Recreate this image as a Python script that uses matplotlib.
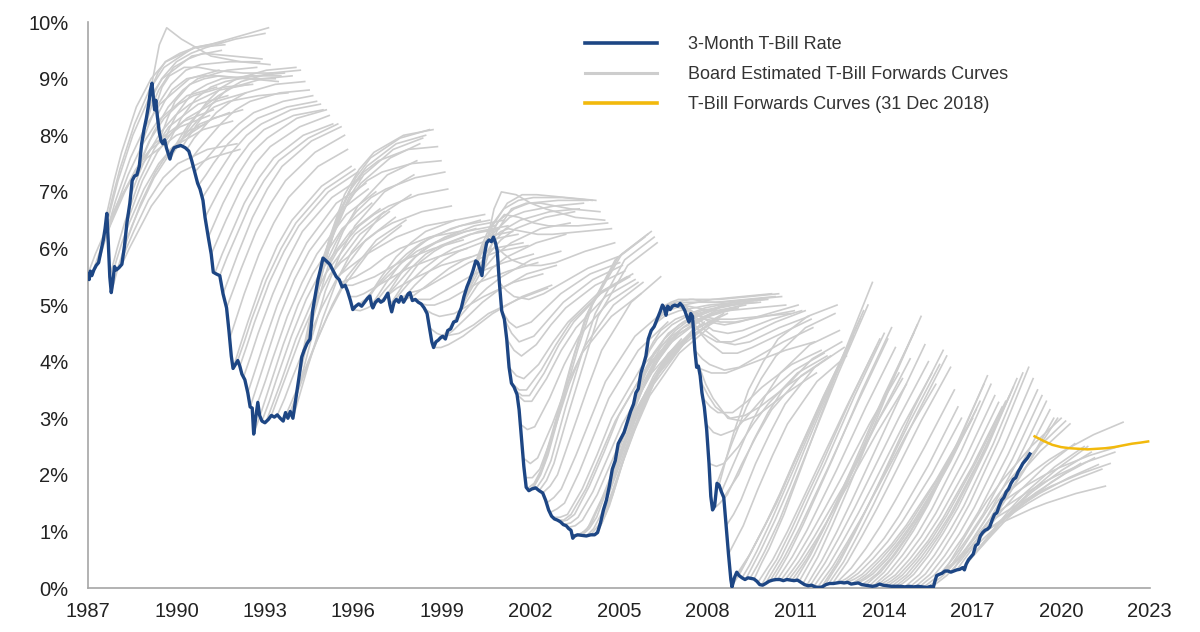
import numpy as np
import matplotlib
matplotlib.use("Agg")
import matplotlib.pyplot as plt
from matplotlib.lines import Line2D
from matplotlib.ticker import FuncFormatter

# 3-month T-bill rate (%)
tbill_year = [
    1987.00, 1987.04, 1987.08, 1987.13, 1987.20, 1987.28, 1987.36, 1987.44, 1987.52, 1987.58,
    1987.64, 1987.69, 1987.74, 1987.79, 1987.84, 1987.90, 1987.96, 1988.05, 1988.15, 1988.24,
    1988.32, 1988.42, 1988.50, 1988.58, 1988.66, 1988.74, 1988.82, 1988.90, 1988.98, 1989.06,
    1989.12, 1989.17, 1989.22, 1989.26, 1989.30, 1989.35, 1989.42, 1989.48, 1989.54, 1989.60,
    1989.66, 1989.72, 1989.78, 1989.84, 1989.92, 1990.02, 1990.15, 1990.30, 1990.42, 1990.52,
    1990.62, 1990.72, 1990.80, 1990.90, 1990.97, 1991.08, 1991.18, 1991.25, 1991.35, 1991.47,
    1991.58, 1991.70, 1991.78, 1991.86, 1991.92, 1992.00, 1992.08, 1992.15, 1992.22, 1992.32,
    1992.42, 1992.50, 1992.57, 1992.62, 1992.68, 1992.76, 1992.82, 1992.90, 1993.00, 1993.12,
    1993.22, 1993.32, 1993.42, 1993.52, 1993.62, 1993.70, 1993.78, 1993.86, 1993.95, 1994.05,
    1994.15, 1994.25, 1994.33, 1994.43, 1994.53, 1994.62, 1994.70, 1994.80, 1994.88, 1994.97,
    1995.08, 1995.20, 1995.30, 1995.42, 1995.52, 1995.62, 1995.72, 1995.80, 1995.90, 1995.98,
    1996.08, 1996.18, 1996.28, 1996.38, 1996.48, 1996.56, 1996.62, 1996.66, 1996.75, 1996.85,
    1996.93, 1997.02, 1997.10, 1997.17, 1997.24, 1997.30, 1997.38, 1997.46, 1997.54, 1997.62,
    1997.70, 1997.78, 1997.86, 1997.92, 1998.00, 1998.10, 1998.20, 1998.30, 1998.40, 1998.50,
    1998.58, 1998.66, 1998.72, 1998.80, 1998.88, 1998.95, 1999.03, 1999.12, 1999.20, 1999.30,
    1999.40, 1999.50, 1999.58, 1999.66, 1999.75, 1999.85, 1999.95, 2000.05, 2000.15, 2000.22,
    2000.30, 2000.36, 2000.44, 2000.52, 2000.60, 2000.68, 2000.75, 2000.82, 2000.88, 2000.95,
    2001.03, 2001.12, 2001.20, 2001.28, 2001.36, 2001.45, 2001.55, 2001.62, 2001.70, 2001.78,
    2001.86, 2001.95, 2002.05, 2002.18, 2002.30, 2002.42, 2002.52, 2002.62, 2002.72, 2002.82,
    2002.92, 2003.02, 2003.12, 2003.22, 2003.30, 2003.38, 2003.44, 2003.50, 2003.60, 2003.75,
    2003.90, 2004.05, 2004.18, 2004.28, 2004.38, 2004.48, 2004.58, 2004.68, 2004.78, 2004.88,
    2004.98, 2005.08, 2005.18, 2005.30, 2005.40, 2005.50, 2005.58, 2005.66, 2005.75, 2005.84,
    2005.92, 2006.00, 2006.10, 2006.20, 2006.30, 2006.40, 2006.48, 2006.54, 2006.60, 2006.66,
    2006.74, 2006.82, 2006.90, 2007.00, 2007.08, 2007.16, 2007.24, 2007.32, 2007.38, 2007.44,
    2007.50, 2007.58, 2007.64, 2007.70, 2007.76, 2007.82, 2007.90, 2007.98, 2008.06, 2008.12,
    2008.18, 2008.25, 2008.33, 2008.40, 2008.48, 2008.56, 2008.64, 2008.72, 2008.80, 2008.84,
    2008.92, 2009.00, 2009.08, 2009.18, 2009.28, 2009.38, 2009.48, 2009.58, 2009.68, 2009.78,
    2009.88, 2009.98, 2010.10, 2010.22, 2010.34, 2010.46, 2010.58, 2010.70, 2010.82, 2010.94,
    2011.06, 2011.18, 2011.30, 2011.42, 2011.54, 2011.66, 2011.78, 2011.90, 2012.02, 2012.15,
    2012.28, 2012.40, 2012.52, 2012.64, 2012.76, 2012.88, 2013.00, 2013.12, 2013.24, 2013.36,
    2013.48, 2013.60, 2013.72, 2013.84, 2013.96, 2014.10, 2014.25, 2014.40, 2014.55, 2014.70,
    2014.85, 2015.00, 2015.15, 2015.30, 2015.45, 2015.58, 2015.66, 2015.72, 2015.78, 2015.86,
    2015.96, 2016.06, 2016.16, 2016.26, 2016.36, 2016.46, 2016.56, 2016.66, 2016.72, 2016.78,
    2016.86, 2016.94, 2017.02, 2017.10, 2017.18, 2017.26, 2017.34, 2017.42, 2017.50, 2017.58,
    2017.66, 2017.74, 2017.82, 2017.90, 2017.98, 2018.06, 2018.14, 2018.22, 2018.30, 2018.38,
    2018.46, 2018.54, 2018.62, 2018.70, 2018.78, 2018.86, 2018.94,
]
tbill_rate = [
    5.55, 5.45, 5.60, 5.52, 5.62, 5.70, 5.75, 5.95, 6.15, 6.35,
    6.62, 6.10, 5.50, 5.22, 5.40, 5.68, 5.62, 5.66, 5.72, 6.05,
    6.45, 6.80, 7.20, 7.28, 7.30, 7.45, 7.85, 8.10, 8.30, 8.55,
    8.80, 8.92, 8.65, 8.45, 8.62, 8.35, 8.05, 7.90, 7.85, 7.92,
    7.78, 7.68, 7.58, 7.70, 7.78, 7.80, 7.82, 7.78, 7.72, 7.55,
    7.35, 7.15, 7.05, 6.85, 6.55, 6.20, 5.90, 5.58, 5.55, 5.52,
    5.20, 4.95, 4.55, 4.10, 3.88, 3.95, 4.02, 3.92, 3.78, 3.68,
    3.45, 3.20, 3.18, 2.72, 2.98, 3.28, 3.05, 2.95, 2.92, 2.98,
    3.05, 3.02, 3.06, 3.00, 2.95, 3.10, 3.00, 3.12, 3.00, 3.35,
    3.70, 4.08, 4.20, 4.32, 4.40, 4.90, 5.15, 5.45, 5.62, 5.83,
    5.78, 5.72, 5.62, 5.50, 5.45, 5.32, 5.35, 5.25, 5.08, 4.92,
    4.98, 5.02, 4.98, 5.05, 5.12, 5.16, 5.00, 4.95, 5.05, 5.10,
    5.05, 5.08, 5.15, 5.21, 5.00, 4.88, 5.05, 5.10, 5.05, 5.15,
    5.05, 5.12, 5.20, 5.22, 5.08, 5.10, 5.05, 5.02, 4.95, 4.85,
    4.60, 4.35, 4.25, 4.35, 4.38, 4.42, 4.45, 4.40, 4.55, 4.58,
    4.70, 4.72, 4.85, 4.95, 5.15, 5.32, 5.45, 5.60, 5.78, 5.75,
    5.62, 5.52, 5.88, 6.10, 6.15, 6.12, 6.20, 6.10, 5.95, 5.40,
    4.90, 4.75, 4.40, 3.90, 3.62, 3.55, 3.42, 3.15, 2.65, 2.15,
    1.78, 1.72, 1.75, 1.77, 1.72, 1.68, 1.55, 1.38, 1.27, 1.22,
    1.20, 1.17, 1.12, 1.10, 1.05, 1.02, 0.88, 0.92, 0.94, 0.93,
    0.92, 0.94, 0.94, 0.98, 1.15, 1.38, 1.55, 1.80, 2.10, 2.25,
    2.55, 2.65, 2.75, 2.95, 3.12, 3.25, 3.45, 3.52, 3.80, 3.95,
    4.10, 4.40, 4.55, 4.62, 4.75, 4.88, 5.00, 4.95, 4.82, 4.98,
    4.92, 4.98, 5.00, 4.98, 5.03, 4.98, 4.90, 4.78, 4.70, 4.85,
    4.80, 4.20, 3.90, 3.92, 3.75, 3.45, 3.20, 2.80, 2.20, 1.62,
    1.38, 1.45, 1.85, 1.82, 1.70, 1.60, 1.10, 0.60, 0.15, 0.02,
    0.18, 0.28, 0.22, 0.18, 0.15, 0.18, 0.17, 0.16, 0.12, 0.06,
    0.05, 0.08, 0.12, 0.14, 0.15, 0.15, 0.13, 0.15, 0.14, 0.13,
    0.14, 0.10, 0.06, 0.04, 0.05, 0.02, 0.01, 0.02, 0.06, 0.08,
    0.08, 0.09, 0.10, 0.09, 0.10, 0.07, 0.08, 0.09, 0.06, 0.05,
    0.04, 0.03, 0.04, 0.07, 0.05, 0.04, 0.03, 0.03, 0.03, 0.02,
    0.03, 0.02, 0.03, 0.02, 0.01, 0.03, 0.00, 0.12, 0.22, 0.24,
    0.26, 0.30, 0.30, 0.28, 0.30, 0.32, 0.33, 0.36, 0.32, 0.42,
    0.50, 0.55, 0.60, 0.75, 0.78, 0.92, 0.98, 1.02, 1.04, 1.08,
    1.20, 1.30, 1.33, 1.45, 1.55, 1.60, 1.70, 1.75, 1.85, 1.92,
    1.95, 2.05, 2.12, 2.20, 2.25, 2.30, 2.37,
]

# forward curves: each starts at a date and is read at these horizons (years ahead)
fwd_horizon = [0, 0.25, 0.5, 1, 1.5, 2, 3, 4]

# 1987-1990
fwd_start_a = [1987.00, 1987.12, 1987.25, 1987.36, 1987.44, 1987.52, 1987.58, 1987.64,
               1987.74, 1987.79, 1987.90, 1988.05, 1988.15, 1988.24, 1988.35, 1988.46,
               1988.58, 1988.72, 1988.82, 1988.90, 1989.00, 1989.12, 1989.17, 1989.26,
               1989.35, 1989.45, 1989.54, 1989.66, 1989.78, 1989.92, 1990.05, 1990.20,
               1990.35, 1990.50, 1990.62, 1990.75, 1990.88, 1990.97]
fwd_vals_a = [
    [5.55, 5.9, 6.2, 6.8, 7.25, 7.6, 8.0, 8.2],
    [5.52, 5.9, 6.25, 6.9, 7.4, 7.75, 8.15, 8.35],
    [5.65, 6.05, 6.4, 7.0, 7.5, 7.85, 8.25, 8.45],
    [5.75, 6.2, 6.6, 7.3, 7.85, 8.25, 8.7, 8.85],
    [5.95, 6.4, 6.85, 7.6, 8.15, 8.55, 9.0, 9.15],
    [6.15, 6.7, 7.2, 8.0, 8.6, 9.0, 9.4, 9.5],
    [6.35, 6.9, 7.4, 8.2, 8.8, 9.2, 9.55, 9.65],
    [6.62, 7.2, 7.7, 8.5, 9.0, 9.3, 9.55, 9.6],
    [5.5, 6.0, 6.45, 7.2, 7.75, 8.15, 8.55, 8.7],
    [5.22, 5.7, 6.1, 6.8, 7.35, 7.75, 8.2, 8.4],
    [5.68, 6.1, 6.45, 7.05, 7.5, 7.8, 8.1, 8.25],
    [5.66, 6.0, 6.3, 6.85, 7.25, 7.5, 7.75, 7.85],
    [5.72, 6.0, 6.25, 6.75, 7.1, 7.35, 7.6, 7.75],
    [6.05, 6.4, 6.7, 7.25, 7.65, 7.95, 8.3, 8.45],
    [6.5, 6.85, 7.2, 7.7, 8.05, 8.3, 8.6, 8.75],
    [6.95, 7.3, 7.6, 8.05, 8.35, 8.55, 8.8, 8.9],
    [7.28, 7.6, 7.9, 8.3, 8.55, 8.7, 8.85, 8.9],
    [7.4, 7.75, 8.05, 8.5, 8.8, 9.0, 9.15, 9.2],
    [7.85, 8.2, 8.5, 8.9, 9.15, 9.25, 9.3, 9.3],
    [8.1, 8.5, 8.8, 9.2, 9.35, 9.45, 9.4, 9.35],
    [8.35, 8.75, 9.0, 9.3, 9.45, 9.55, 9.7, 9.8],
    [8.8, 9.1, 9.3, 9.45, 9.55, 9.6, 9.75, 9.9],
    [8.92, 9.6, 9.9, 9.7, 9.55, 9.4, 9.3, 9.25],
    [8.45, 8.85, 9.05, 9.2, 9.2, 9.15, 9.1, 9.1],
    [8.35, 8.6, 8.8, 9.0, 9.05, 9.05, 9.0, 9.0],
    [7.95, 8.3, 8.6, 8.9, 9.0, 9.05, 9.0, 8.95],
    [7.85, 8.15, 8.4, 8.75, 8.9, 9.0, 9.05, 9.05],
    [7.8, 8.05, 8.3, 8.65, 8.85, 8.95, 9.05, 9.1],
    [7.58, 7.8, 8.0, 8.3, 8.5, 8.6, 8.7, 8.75],
    [7.78, 8.0, 8.2, 8.5, 8.7, 8.85, 9.0, 9.05],
    [7.8, 8.05, 8.25, 8.6, 8.85, 9.0, 9.15, 9.2],
    [7.8, 8.0, 8.2, 8.55, 8.8, 8.95, 9.1, 9.15],
    [7.75, 7.95, 8.1, 8.4, 8.6, 8.75, 8.9, 8.95],
    [7.58, 7.75, 7.9, 8.2, 8.45, 8.6, 8.75, 8.8],
    [7.35, 7.5, 7.65, 7.95, 8.2, 8.4, 8.6, 8.7],
    [7.12, 7.3, 7.5, 7.85, 8.1, 8.3, 8.5, 8.6],
    [6.9, 7.1, 7.3, 7.7, 8.0, 8.2, 8.45, 8.55],
    [6.55, 6.8, 7.05, 7.5, 7.85, 8.1, 8.35, 8.45],
]

# 1991-1994
fwd_start_b = [1991.08, 1991.18, 1991.30, 1991.47, 1991.58, 1991.70, 1991.80, 1991.92,
               1992.05, 1992.15, 1992.27, 1992.42, 1992.50, 1992.62, 1992.76, 1992.90,
               1993.05, 1993.22, 1993.42, 1993.62, 1993.78, 1993.95, 1994.05, 1994.15,
               1994.25, 1994.35, 1994.45, 1994.58, 1994.70, 1994.85, 1994.97]
fwd_vals_b = [
    [6.2, 6.5, 6.8, 7.3, 7.7, 7.95, 8.3, 8.45],
    [5.9, 6.2, 6.5, 7.05, 7.5, 7.8, 8.15, 8.35],
    [5.56, 5.9, 6.2, 6.8, 7.25, 7.6, 8.0, 8.2],
    [5.52, 5.85, 6.15, 6.75, 7.2, 7.55, 7.95, 8.2],
    [5.2, 5.55, 5.9, 6.55, 7.05, 7.45, 7.9, 8.15],
    [4.95, 5.3, 5.65, 6.3, 6.8, 7.2, 7.7, 8.0],
    [4.4, 4.8, 5.2, 5.9, 6.45, 6.9, 7.45, 7.75],
    [3.88, 4.3, 4.7, 5.45, 6.05, 6.5, 7.1, 7.45],
    [3.98, 4.35, 4.75, 5.45, 6.0, 6.45, 7.05, 7.4],
    [3.92, 4.3, 4.7, 5.4, 5.95, 6.4, 7.0, 7.35],
    [3.72, 4.1, 4.5, 5.2, 5.8, 6.3, 6.9, 7.25],
    [3.45, 3.85, 4.25, 5.0, 5.6, 6.1, 6.8, 7.15],
    [3.2, 3.6, 4.0, 4.8, 5.45, 5.95, 6.65, 7.05],
    [2.72, 3.1, 3.5, 4.3, 5.0, 5.55, 6.35, 6.8],
    [3.28, 3.65, 4.05, 4.8, 5.4, 5.9, 6.6, 7.0],
    [2.95, 3.3, 3.7, 4.45, 5.1, 5.6, 6.3, 6.7],
    [2.95, 3.3, 3.65, 4.4, 5.0, 5.55, 6.25, 6.65],
    [3.05, 3.4, 3.75, 4.45, 5.05, 5.55, 6.25, 6.65],
    [3.05, 3.35, 3.7, 4.35, 4.95, 5.45, 6.15, 6.55],
    [2.95, 3.25, 3.55, 4.2, 4.8, 5.3, 6.0, 6.4],
    [3.0, 3.35, 3.7, 4.4, 5.0, 5.5, 6.15, 6.5],
    [3.0, 3.45, 3.9, 4.75, 5.45, 5.95, 6.6, 6.95],
    [3.35, 3.85, 4.35, 5.25, 5.9, 6.4, 7.0, 7.3],
    [3.7, 4.25, 4.8, 5.7, 6.3, 6.75, 7.3, 7.55],
    [4.08, 4.7, 5.25, 6.15, 6.75, 7.15, 7.6, 7.85],
    [4.22, 4.85, 5.4, 6.3, 6.9, 7.3, 7.75, 7.95],
    [4.35, 5.0, 5.6, 6.5, 7.1, 7.45, 7.85, 8.0],
    [4.7, 5.3, 5.85, 6.7, 7.25, 7.6, 7.95, 8.1],
    [5.15, 5.7, 6.2, 6.95, 7.4, 7.7, 8.0, 8.1],
    [5.55, 6.0, 6.4, 7.0, 7.35, 7.55, 7.75, 7.8],
    [5.83, 6.2, 6.5, 6.95, 7.2, 7.35, 7.5, 7.55],
]

# 1995-2000
fwd_start_c = [1995.10, 1995.20, 1995.32, 1995.45, 1995.58, 1995.72, 1995.85, 1995.98,
               1996.15, 1996.30, 1996.45, 1996.62, 1996.80, 1996.95, 1997.10, 1997.24,
               1997.40, 1997.58, 1997.75, 1997.92, 1998.10, 1998.25, 1998.42, 1998.58,
               1998.72, 1998.88, 1999.03, 1999.20, 1999.35, 1999.50, 1999.66, 1999.80,
               1999.95, 2000.10, 2000.22, 2000.36, 2000.52, 2000.62, 2000.75, 2000.86,
               2000.95]
fwd_vals_c = [
    [5.78, 6.05, 6.3, 6.65, 6.9, 7.05, 7.25, 7.35],
    [5.72, 5.95, 6.1, 6.4, 6.6, 6.75, 6.95, 7.05],
    [5.6, 5.75, 5.85, 6.1, 6.3, 6.45, 6.65, 6.75],
    [5.5, 5.6, 5.7, 5.9, 6.05, 6.2, 6.4, 6.5],
    [5.4, 5.45, 5.5, 5.65, 5.85, 6.0, 6.2, 6.3],
    [5.35, 5.35, 5.4, 5.5, 5.65, 5.8, 6.0, 6.15],
    [5.15, 5.15, 5.2, 5.35, 5.5, 5.65, 5.85, 6.0],
    [4.92, 4.9, 4.95, 5.1, 5.3, 5.45, 5.7, 5.85],
    [5.0, 5.1, 5.25, 5.5, 5.75, 5.95, 6.2, 6.35],
    [5.0, 5.15, 5.35, 5.65, 5.9, 6.1, 6.35, 6.5],
    [5.1, 5.3, 5.5, 5.85, 6.1, 6.3, 6.5, 6.6],
    [5.0, 5.2, 5.4, 5.75, 6.0, 6.2, 6.4, 6.5],
    [5.08, 5.25, 5.4, 5.7, 5.95, 6.1, 6.3, 6.4],
    [5.05, 5.2, 5.35, 5.65, 5.9, 6.05, 6.25, 6.35],
    [5.15, 5.35, 5.55, 5.85, 6.05, 6.2, 6.4, 6.5],
    [5.0, 5.2, 5.4, 5.75, 5.95, 6.1, 6.3, 6.4],
    [5.08, 5.25, 5.4, 5.65, 5.85, 6.0, 6.2, 6.3],
    [5.1, 5.2, 5.35, 5.6, 5.8, 5.95, 6.15, 6.25],
    [5.1, 5.15, 5.25, 5.45, 5.65, 5.8, 6.0, 6.1],
    [5.22, 5.25, 5.3, 5.45, 5.6, 5.75, 5.95, 6.05],
    [5.1, 5.1, 5.1, 5.25, 5.4, 5.55, 5.75, 5.9],
    [5.03, 5.0, 5.0, 5.1, 5.25, 5.4, 5.6, 5.75],
    [4.93, 4.85, 4.8, 4.85, 5.0, 5.15, 5.4, 5.55],
    [4.6, 4.5, 4.45, 4.5, 4.65, 4.85, 5.1, 5.3],
    [4.25, 4.25, 4.3, 4.45, 4.65, 4.85, 5.15, 5.35],
    [4.38, 4.45, 4.55, 4.8, 5.05, 5.25, 5.55, 5.7],
    [4.45, 4.6, 4.75, 5.05, 5.3, 5.5, 5.8, 5.95],
    [4.55, 4.75, 4.95, 5.35, 5.65, 5.85, 6.1, 6.25],
    [4.62, 4.9, 5.15, 5.6, 5.9, 6.1, 6.35, 6.45],
    [4.72, 5.05, 5.35, 5.85, 6.15, 6.35, 6.55, 6.65],
    [4.95, 5.3, 5.6, 6.05, 6.35, 6.5, 6.65, 6.7],
    [5.25, 5.6, 5.9, 6.3, 6.55, 6.65, 6.75, 6.8],
    [5.45, 5.8, 6.1, 6.5, 6.7, 6.8, 6.85, 6.85],
    [5.7, 6.05, 6.35, 6.7, 6.85, 6.9, 6.9, 6.85],
    [5.75, 6.1, 6.4, 6.8, 6.95, 6.95, 6.9, 6.85],
    [5.52, 5.95, 6.3, 6.7, 6.8, 6.8, 6.7, 6.65],
    [6.1, 6.7, 7.0, 6.95, 6.8, 6.7, 6.55, 6.5],
    [6.15, 6.45, 6.6, 6.55, 6.45, 6.4, 6.4, 6.45],
    [6.2, 6.3, 6.35, 6.3, 6.25, 6.25, 6.3, 6.35],
    [6.02, 5.9, 5.8, 5.7, 5.7, 5.75, 5.95, 6.1],
    [5.4, 5.25, 5.15, 5.1, 5.2, 5.35, 5.65, 5.85],
]

# 2001-2005
fwd_start_d = [2001.03, 2001.12, 2001.20, 2001.28, 2001.37, 2001.47, 2001.55, 2001.65,
               2001.75, 2001.82, 2001.88, 2001.98, 2002.10, 2002.20, 2002.30, 2002.42,
               2002.55, 2002.66, 2002.76, 2002.88, 2003.00, 2003.12, 2003.27, 2003.44,
               2003.58, 2003.75, 2003.90, 2004.05, 2004.18, 2004.30, 2004.42, 2004.55,
               2004.68, 2004.80, 2004.92, 2005.05, 2005.18, 2005.30, 2005.42, 2005.55,
               2005.68, 2005.80, 2005.92]
fwd_vals_d = [
    [4.9, 4.7, 4.6, 4.7, 4.95, 5.2, 5.55, 5.75],
    [4.75, 4.5, 4.35, 4.45, 4.75, 5.05, 5.45, 5.7],
    [4.4, 4.2, 4.1, 4.3, 4.65, 4.95, 5.35, 5.6],
    [3.9, 3.75, 3.7, 3.95, 4.35, 4.7, 5.2, 5.5],
    [3.62, 3.5, 3.5, 3.85, 4.3, 4.7, 5.2, 5.5],
    [3.5, 3.4, 3.4, 3.8, 4.3, 4.7, 5.25, 5.55],
    [3.42, 3.3, 3.3, 3.7, 4.2, 4.6, 5.15, 5.45],
    [2.9, 2.8, 2.85, 3.35, 3.95, 4.45, 5.05, 5.4],
    [2.3, 2.2, 2.3, 2.9, 3.6, 4.15, 4.8, 5.2],
    [1.95, 1.95, 2.1, 2.8, 3.6, 4.25, 5.0, 5.4],
    [1.75, 1.85, 2.1, 3.0, 3.95, 4.8, 5.8, 6.2],
    [1.72, 1.9, 2.2, 3.15, 4.1, 4.9, 5.85, 6.25],
    [1.77, 2.0, 2.35, 3.3, 4.2, 5.0, 5.9, 6.3],
    [1.76, 1.95, 2.25, 3.2, 4.05, 4.85, 5.8, 6.2],
    [1.72, 1.9, 2.2, 3.1, 3.95, 4.8, 5.7, 6.1],
    [1.68, 1.8, 2.0, 2.75, 3.5, 4.2, 5.05, 5.5],
    [1.5, 1.6, 1.75, 2.35, 3.0, 3.65, 4.45, 4.9],
    [1.33, 1.4, 1.5, 2.05, 2.7, 3.35, 4.2, 4.7],
    [1.25, 1.25, 1.3, 1.75, 2.35, 3.0, 3.9, 4.45],
    [1.2, 1.2, 1.3, 1.75, 2.35, 2.95, 3.85, 4.4],
    [1.17, 1.2, 1.3, 1.8, 2.4, 3.05, 3.95, 4.5],
    [1.12, 1.15, 1.25, 1.7, 2.3, 2.9, 3.8, 4.4],
    [1.07, 1.1, 1.2, 1.65, 2.25, 2.85, 3.75, 4.35],
    [0.88, 0.95, 1.05, 1.6, 2.25, 2.95, 3.9, 4.5],
    [0.93, 1.0, 1.15, 1.75, 2.45, 3.15, 4.05, 4.6],
    [0.93, 1.05, 1.25, 1.95, 2.65, 3.3, 4.15, 4.65],
    [0.92, 1.05, 1.3, 2.05, 2.8, 3.45, 4.25, 4.7],
    [0.94, 1.1, 1.35, 2.1, 2.8, 3.4, 4.15, 4.6],
    [0.94, 1.15, 1.45, 2.3, 3.0, 3.6, 4.3, 4.7],
    [1.0, 1.3, 1.65, 2.5, 3.2, 3.75, 4.4, 4.75],
    [1.25, 1.55, 1.9, 2.7, 3.35, 3.85, 4.45, 4.75],
    [1.5, 1.85, 2.2, 2.95, 3.55, 4.0, 4.55, 4.85],
    [1.8, 2.15, 2.5, 3.2, 3.75, 4.15, 4.6, 4.85],
    [2.14, 2.5, 2.85, 3.5, 4.0, 4.35, 4.75, 4.95],
    [2.35, 2.7, 3.05, 3.65, 4.1, 4.45, 4.8, 4.95],
    [2.62, 2.95, 3.25, 3.8, 4.2, 4.5, 4.8, 4.95],
    [2.75, 3.1, 3.4, 3.95, 4.35, 4.6, 4.85, 5.0],
    [2.95, 3.3, 3.6, 4.1, 4.45, 4.65, 4.9, 5.0],
    [3.15, 3.5, 3.8, 4.25, 4.55, 4.75, 4.95, 5.05],
    [3.35, 3.7, 4.0, 4.4, 4.65, 4.8, 5.0, 5.05],
    [3.6, 3.9, 4.15, 4.5, 4.7, 4.85, 5.0, 5.05],
    [3.9, 4.2, 4.4, 4.65, 4.8, 4.9, 5.0, 5.05],
    [4.1, 4.35, 4.55, 4.75, 4.85, 4.95, 5.05, 5.1],
]

# 2006-2008
fwd_start_e = [2006.05, 2006.18, 2006.30, 2006.42, 2006.52, 2006.66, 2006.83, 2006.95,
               2007.08, 2007.20, 2007.32, 2007.44, 2007.52, 2007.58, 2007.64, 2007.70,
               2007.78, 2007.86, 2007.96, 2008.06, 2008.18, 2008.33, 2008.40, 2008.48,
               2008.56, 2008.64, 2008.72]
fwd_vals_e = [
    [4.5, 4.7, 4.8, 4.9, 4.95, 5.0, 5.05, 5.1],
    [4.6, 4.8, 4.9, 5.0, 5.05, 5.1, 5.15, 5.2],
    [4.75, 4.9, 5.0, 5.05, 5.05, 5.05, 5.1, 5.15],
    [4.9, 5.0, 5.05, 5.1, 5.1, 5.1, 5.15, 5.2],
    [4.98, 5.05, 5.1, 5.1, 5.05, 5.05, 5.1, 5.15],
    [4.98, 5.0, 5.0, 4.95, 4.9, 4.9, 4.95, 5.0],
    [4.98, 4.95, 4.9, 4.8, 4.75, 4.75, 4.8, 4.85],
    [5.0, 4.95, 4.9, 4.75, 4.7, 4.7, 4.8, 4.9],
    [5.03, 4.95, 4.85, 4.7, 4.65, 4.7, 4.85, 5.0],
    [4.95, 4.85, 4.75, 4.55, 4.5, 4.55, 4.75, 4.9],
    [4.78, 4.65, 4.5, 4.35, 4.35, 4.45, 4.7, 4.9],
    [4.85, 4.7, 4.55, 4.35, 4.3, 4.35, 4.6, 4.8],
    [4.7, 4.5, 4.35, 4.15, 4.15, 4.25, 4.5, 4.75],
    [4.2, 4.05, 3.95, 3.85, 3.9, 4.05, 4.35, 4.6],
    [3.9, 3.85, 3.8, 3.8, 3.9, 4.0, 4.2, 4.35],
    [3.95, 3.6, 3.35, 3.0, 2.95, 3.05, 3.45, 3.8],
    [3.65, 3.4, 3.2, 3.0, 3.05, 3.2, 3.6, 3.95],
    [3.35, 3.2, 3.1, 3.1, 3.3, 3.55, 3.95, 4.2],
    [2.9, 2.75, 2.7, 2.8, 3.1, 3.4, 3.85, 4.15],
    [2.2, 2.15, 2.2, 2.5, 2.9, 3.25, 3.8, 4.1],
    [1.38, 1.5, 1.65, 2.2, 2.7, 3.15, 3.75, 4.1],
    [1.85, 2.2, 2.55, 3.2, 3.7, 4.1, 4.6, 4.85],
    [1.82, 2.3, 2.75, 3.5, 4.0, 4.4, 4.8, 5.0],
    [1.7, 2.0, 2.3, 2.9, 3.4, 3.8, 4.3, 4.55],
    [1.6, 1.8, 2.0, 2.6, 3.1, 3.5, 4.05, 4.35],
    [1.1, 1.3, 1.55, 2.2, 2.75, 3.25, 3.9, 4.25],
    [0.6, 0.85, 1.1, 1.75, 2.35, 2.9, 3.65, 4.1],
]

# 2009-2015 (near-zero policy rate)
fwd_start_f = [2008.85, 2008.95, 2009.05, 2009.18, 2009.30, 2009.45, 2009.60, 2009.72,
               2009.85, 2010.00, 2010.12, 2010.25, 2010.38, 2010.50, 2010.62, 2010.75,
               2010.88, 2011.00, 2011.12, 2011.25, 2011.38, 2011.50, 2011.62, 2011.75,
               2011.88, 2012.00, 2012.12, 2012.25, 2012.38, 2012.50, 2012.62, 2012.75,
               2012.88, 2013.00, 2013.12, 2013.25, 2013.38, 2013.50, 2013.62, 2013.75,
               2013.88, 2014.00, 2014.12, 2014.25, 2014.38, 2014.50, 2014.70, 2014.90,
               2015.05, 2015.20, 2015.35, 2015.50, 2015.62, 2015.75, 2015.88]
fwd_vals_f = [
    [0.05, 0.25, 0.5, 1.0, 1.5, 2.1, 3.25, 4.3],
    [0.2, 0.4, 0.6, 1.1, 1.65, 2.25, 3.4, 4.45],
    [0.25, 0.45, 0.7, 1.2, 1.75, 2.35, 3.5, 4.6],
    [0.18, 0.4, 0.65, 1.2, 1.8, 2.4, 3.6, 4.75],
    [0.15, 0.4, 0.65, 1.2, 1.8, 2.45, 3.7, 4.9],
    [0.17, 0.4, 0.65, 1.2, 1.85, 2.5, 3.8, 5.0],
    [0.17, 0.45, 0.7, 1.3, 2.0, 2.7, 4.1, 5.4],
    [0.1, 0.3, 0.5, 1.0, 1.55, 2.1, 3.2, 4.25],
    [0.06, 0.3, 0.5, 1.03, 1.6, 2.15, 3.32, 4.4],
    [0.1, 0.32, 0.54, 1.07, 1.65, 2.21, 3.4, 4.5],
    [0.12, 0.33, 0.55, 1.05, 1.6, 2.15, 3.3, 4.4],
    [0.14, 0.36, 0.59, 1.12, 1.7, 2.28, 3.49, 4.6],
    [0.15, 0.35, 0.55, 1.02, 1.55, 2.08, 3.2, 4.25],
    [0.14, 0.32, 0.51, 0.95, 1.42, 1.9, 2.9, 3.8],
    [0.13, 0.3, 0.48, 0.9, 1.35, 1.8, 2.8, 3.7],
    [0.14, 0.31, 0.49, 0.9, 1.35, 1.8, 2.74, 3.6],
    [0.14, 0.33, 0.52, 0.98, 1.5, 2.0, 3.05, 4.05],
    [0.14, 0.36, 0.58, 1.1, 1.65, 2.23, 3.41, 4.5],
    [0.12, 0.35, 0.58, 1.12, 1.7, 2.3, 3.5, 4.65],
    [0.08, 0.32, 0.55, 1.12, 1.72, 2.35, 3.62, 4.8],
    [0.05, 0.27, 0.48, 0.98, 1.52, 2.08, 3.2, 4.3],
    [0.05, 0.25, 0.45, 0.92, 1.42, 1.95, 3.01, 4.0],
    [0.03, 0.22, 0.4, 0.85, 1.32, 1.82, 2.85, 3.8],
    [0.02, 0.2, 0.38, 0.81, 1.26, 1.74, 2.71, 3.6],
    [0.02, 0.22, 0.42, 0.88, 1.38, 1.9, 2.95, 3.95],
    [0.06, 0.27, 0.47, 0.97, 1.5, 2.05, 3.17, 4.2],
    [0.08, 0.27, 0.46, 0.95, 1.46, 2.0, 3.08, 4.1],
    [0.08, 0.27, 0.46, 0.92, 1.4, 1.91, 2.95, 3.9],
    [0.09, 0.22, 0.35, 0.7, 1.1, 1.55, 2.5, 3.5],
    [0.1, 0.18, 0.28, 0.56, 0.88, 1.27, 2.17, 3.2],
    [0.09, 0.17, 0.26, 0.52, 0.82, 1.18, 2.02, 3.0],
    [0.1, 0.16, 0.24, 0.49, 0.77, 1.11, 1.9, 2.8],
    [0.07, 0.15, 0.24, 0.5, 0.8, 1.15, 1.98, 2.9],
    [0.08, 0.15, 0.24, 0.5, 0.82, 1.18, 2.03, 3.0],
    [0.09, 0.16, 0.25, 0.52, 0.86, 1.24, 2.14, 3.15],
    [0.06, 0.15, 0.25, 0.54, 0.9, 1.29, 2.23, 3.3],
    [0.05, 0.17, 0.28, 0.6, 0.98, 1.42, 2.45, 3.6],
    [0.04, 0.16, 0.28, 0.62, 1.02, 1.48, 2.55, 3.75],
    [0.03, 0.15, 0.26, 0.58, 0.95, 1.4, 2.43, 3.6],
    [0.04, 0.15, 0.25, 0.55, 0.9, 1.32, 2.29, 3.4],
    [0.06, 0.14, 0.23, 0.52, 0.86, 1.26, 2.2, 3.28],
    [0.05, 0.13, 0.23, 0.51, 0.84, 1.24, 2.16, 3.2],
    [0.04, 0.13, 0.23, 0.52, 0.87, 1.28, 2.23, 3.3],
    [0.03, 0.13, 0.23, 0.54, 0.9, 1.31, 2.29, 3.4],
    [0.03, 0.13, 0.24, 0.56, 0.94, 1.38, 2.4, 3.55],
    [0.03, 0.13, 0.24, 0.57, 0.97, 1.42, 2.49, 3.7],
    [0.02, 0.13, 0.24, 0.58, 0.99, 1.45, 2.55, 3.8],
    [0.03, 0.14, 0.25, 0.6, 1.02, 1.49, 2.62, 3.9],
    [0.02, 0.13, 0.24, 0.57, 0.96, 1.42, 2.48, 3.7],
    [0.02, 0.13, 0.23, 0.55, 0.92, 1.35, 2.36, 3.5],
    [0.02, 0.12, 0.22, 0.53, 0.9, 1.3, 2.28, 3.4],
    [0.02, 0.12, 0.22, 0.51, 0.86, 1.27, 2.22, 3.3],
    [0.02, 0.12, 0.22, 0.5, 0.84, 1.25, 2.15, 3.15],
    [0.2, 0.28, 0.37, 0.62, 0.92, 1.26, 2.08, 3.0],
    [0.24, 0.35, 0.46, 0.75, 1.08, 1.42, 2.2, 3.0],
]

# 2016-2018
fwd_start_g = [2016.00, 2016.15, 2016.30, 2016.46, 2016.66, 2016.78, 2016.90, 2017.02,
               2017.13, 2017.26, 2017.38, 2017.50, 2017.66, 2017.82, 2017.95, 2018.10]
fwd_vals_g = [
    [0.26, 0.48, 0.7, 1.14, 1.55, 1.9, 2.51, 3.0],
    [0.3, 0.5, 0.7, 1.1, 1.5, 1.85, 2.45, 2.95],
    [0.28, 0.49, 0.7, 1.1, 1.5, 1.84, 2.42, 2.9],
    [0.32, 0.5, 0.68, 1.02, 1.35, 1.65, 2.15, 2.55],
    [0.36, 0.5, 0.65, 0.94, 1.22, 1.46, 1.87, 2.2],
    [0.42, 0.58, 0.75, 1.08, 1.4, 1.68, 2.14, 2.5],
    [0.5, 0.65, 0.8, 1.12, 1.42, 1.68, 2.12, 2.5],
    [0.6, 0.75, 0.9, 1.2, 1.47, 1.7, 2.08, 2.4],
    [0.75, 0.88, 1.0, 1.25, 1.48, 1.68, 2.02, 2.3],
    [0.92, 1.02, 1.12, 1.32, 1.5, 1.67, 1.95, 2.18],
    [1.0, 1.08, 1.16, 1.33, 1.5, 1.65, 1.9, 2.1],
    [1.04, 1.1, 1.16, 1.28, 1.4, 1.5, 1.67, 1.8],
    [1.2, 1.28, 1.36, 1.52, 1.67, 1.8, 2.02, 2.2],
    [1.33, 1.42, 1.51, 1.68, 1.84, 1.98, 2.22, 2.4],
    [1.5, 1.59, 1.68, 1.85, 2.0, 2.13, 2.34, 2.5],
    [1.65, 1.76, 1.87, 2.08, 2.27, 2.43, 2.71, 2.93],
]

# T-bill forwards as of 31 Dec 2018
fwd2018_year = [2019.1, 2019.4, 2019.7, 2020.0, 2020.3, 2020.6, 2020.9, 2021.2,
                2021.5, 2021.8, 2022.1, 2022.4, 2022.7, 2022.95]
fwd2018_rate = [2.68, 2.6, 2.53, 2.49, 2.47, 2.46, 2.45, 2.46,
                2.47, 2.49, 2.52, 2.55, 2.57, 2.59]

BLUE = "#1d4684"
GREY = "#cdcdcd"
GOLD = "#f2b90c"

plt.rcParams["font.family"] = ["Liberation Sans", "DejaVu Sans"]

fig, ax = plt.subplots(figsize=(12, 6.32), dpi=100)
fig.subplots_adjust(left=0.0733, right=0.958, bottom=0.0696, top=0.965)

starts = fwd_start_a + fwd_start_b + fwd_start_c + fwd_start_d + fwd_start_e + fwd_start_f + fwd_start_g
curves = fwd_vals_a + fwd_vals_b + fwd_vals_c + fwd_vals_d + fwd_vals_e + fwd_vals_f + fwd_vals_g
h = np.array(fwd_horizon)
for s, v in zip(starts, curves):
    ax.plot(s + h, v, color=GREY, lw=1.2, zorder=1, solid_joinstyle="round")

ax.plot(fwd2018_year, fwd2018_rate, color=GOLD, lw=1.8, zorder=3)
ax.plot(tbill_year, tbill_rate, color=BLUE, lw=2.4, zorder=4, solid_joinstyle="round")

ax.set_xlim(1987, 2023)
ax.set_ylim(0, 10)
ax.set_xticks(range(1987, 2024, 3))
ax.set_yticks(range(0, 11))
ax.yaxis.set_major_formatter(FuncFormatter(lambda v, p: "{:.0f}%".format(v)))
ax.tick_params(length=0, labelsize=14.5, colors="#222222")
ax.tick_params(axis="y", pad=14)
ax.tick_params(axis="x", pad=10)
for side in ["top", "right"]:
    ax.spines[side].set_visible(False)
for side in ["left", "bottom"]:
    ax.spines[side].set_color("#a6a6a6")
    ax.spines[side].set_linewidth(1.2)

handles = [Line2D([], [], color=BLUE, lw=2.6),
           Line2D([], [], color=GREY, lw=2.2),
           Line2D([], [], color=GOLD, lw=2.6)]
labels = ["3-Month T-Bill Rate", "Board Estimated T-Bill Forwards Curves",
          "T-Bill Forwards Curves (31 Dec 2018)"]
leg = ax.legend(handles, labels, loc="upper left", bbox_to_anchor=(0.4525, 1.004),
                frameon=False, fontsize=13, handlelength=4.0, handletextpad=1.75,
                labelspacing=0.72)
for t in leg.get_texts():
    t.set_color("#333333")

fig.savefig("out.png", dpi=100)
